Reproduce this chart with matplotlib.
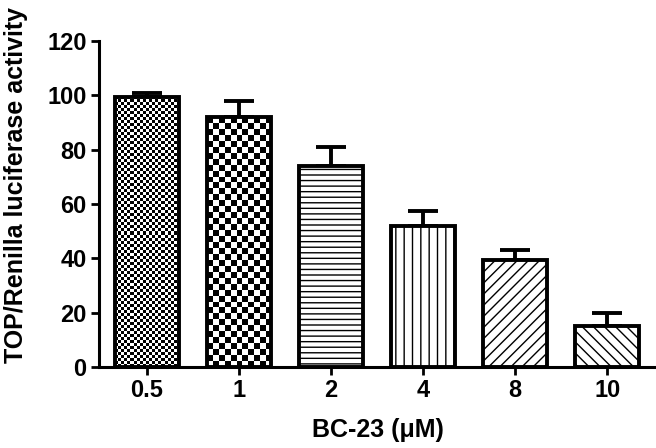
import numpy as np
import matplotlib.pyplot as plt

# 데이터
doses = ['0.5', '1', '2', '4', '8', '10']
activity = [99.5, 92, 74, 52, 39.5, 15]
sem = [1.5, 6, 7, 5.5, 3.5, 5]

# 막대별 무늬 (checker = 체크 무늬, 숫자는 칸 크기 px)
patterns = [('checker', 3), ('checker', 6), ('---', 0), ('||', 0), ('///', 0), ('\\\\\\', 0)]

plt.rcParams['font.family'] = ['Liberation Sans', 'DejaVu Sans']
plt.rcParams['font.weight'] = 'bold'
plt.rcParams['hatch.linewidth'] = 1.0

fig = plt.figure(figsize=(6.56, 4.48), dpi=100)
ax = fig.add_axes([0.151, 0.181, 0.849, 0.727])

x = np.arange(len(doses))
ax.set_xlim(-0.52, 5.53)
ax.set_ylim(0, 120)

faces = ['none' if p[0] == 'checker' else 'white' for p in patterns]
bars = ax.bar(x, activity, width=0.7, color=faces, edgecolor='black',
              linewidth=2.8, zorder=3)
for bar, (h, _) in zip(bars, patterns):
    if h != 'checker':
        bar.set_hatch(h)

# 체크 무늬는 이미지로 채우고 막대 모양으로 자름
for bar, (h, cell) in zip(bars, patterns):
    if h != 'checker':
        continue
    x0, y0 = bar.get_x(), bar.get_y()
    w, hh = bar.get_width(), bar.get_height()
    p0 = ax.transData.transform((x0, y0))
    p1 = ax.transData.transform((x0 + w, y0 + hh))
    nx = max(1, int(round(abs(p1[0] - p0[0]) / cell)))
    ny = max(1, int(round(abs(p1[1] - p0[1]) / cell)))
    board = (np.add.outer(np.arange(ny), np.arange(nx)) % 2).astype(float)
    im = ax.imshow(board, cmap='gray', extent=[x0, x0 + w, y0, y0 + hh],
                   aspect='auto', interpolation='nearest', zorder=2)
    im.set_clip_path(bar)

ax.set_xlim(-0.52, 5.53)
ax.set_ylim(0, 120)

ax.errorbar(x, activity, yerr=[np.zeros(len(sem)), sem], fmt='none',
            ecolor='black', elinewidth=2.8, capsize=11, capthick=2.8, zorder=1)

ax.spines['top'].set_visible(False)
ax.spines['right'].set_visible(False)
ax.spines['left'].set_linewidth(2.2)
ax.spines['bottom'].set_linewidth(2.2)

ax.set_xticks(x)
ax.set_xticklabels(doses)
ax.set_yticks(np.arange(0, 121, 20))
ax.tick_params(axis='both', length=6, width=2, labelsize=17, pad=3)

ax.set_xlabel('BC-23 (μM)', fontsize=18, fontweight='bold')
ax.xaxis.set_label_coords(0.5, -0.158)
ax.set_ylabel('TOP/Renilla luciferase activity', fontsize=18, fontweight='bold')
ax.yaxis.set_label_coords(-0.128, 0.56)

fig.savefig('out.png', dpi=100)
